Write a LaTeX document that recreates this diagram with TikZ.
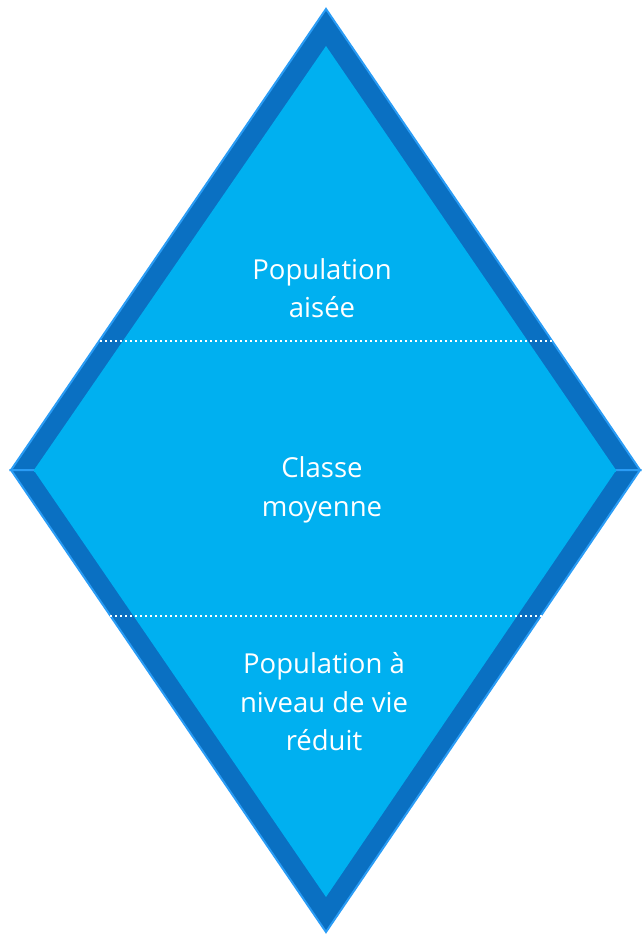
\documentclass[tikz,border=0pt]{standalone}
\usepackage{fontspec}
\setmainfont{Open Sans}
\definecolor{darkband}{HTML}{0A70C2}
\definecolor{lightfill}{HTML}{00B0F0}
\definecolor{edgeblue}{HTML}{2A9CF5}
\begin{document}
\begin{tikzpicture}[x=1pt,y=-1pt,
  outertri/.style={fill=darkband,draw=edgeblue,line width=2pt,line join=miter},
  innertri/.style={fill=lightfill},
  sep/.style={white,line width=2.2pt,dash pattern=on 2.2pt off 2.8pt},
  lbl/.style={text=white,align=center,font=\fontsize{27.5}{38.5}\selectfont}]
\useasboundingbox (0,0) rectangle (641,937);
\coordinate (T) at (326,9);
\coordinate (L) at (11,470);
\coordinate (R) at (640,470);
\coordinate (B) at (326,932);
% upper triangle
\filldraw[outertri] (T) -- (R) -- (L) -- cycle;
% lower triangle
\filldraw[outertri] (L) -- (R) -- (B) -- cycle;
\draw[edgeblue,line width=2pt] (L) -- (R);
% inner fills
\fill[innertri] (326,46) -- (616,470) -- (34,470) -- cycle;
\fill[innertri] (34,470.5) -- (616,470.5) -- (326,897) -- cycle;
\fill[innertri] (34,469) rectangle (616,472);
% dotted separators
\coordinate (s1a) at (100,341);
\coordinate (s1b) at (552,341);
\coordinate (s2a) at (110,616);
\coordinate (s2b) at (545,616);
\draw[sep] (s1a) -- (s1b);
\draw[sep] (s2a) -- (s2b);
% labels
\node[lbl] (top) at (322,288) {Population\\aisée};
\node[lbl] (mid) at (322,490) {Classe\\moyenne};
\node[lbl] (bot) at (324,702) {Population à\\niveau de vie\\réduit};
\end{tikzpicture}
\end{document}
